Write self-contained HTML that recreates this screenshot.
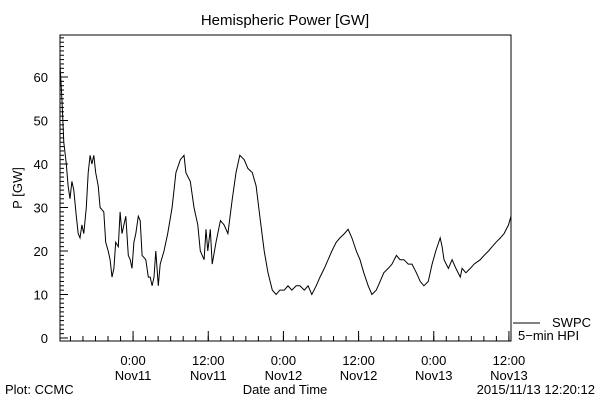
<!DOCTYPE html>
<html><head><meta charset="utf-8"><style>
body{margin:0;background:#fff}
svg text{font-family:"Liberation Sans",sans-serif;font-size:13px;fill:#000}
</style></head><body>
<svg id="c" width="600" height="400">
<text x="285" y="25" text-anchor="middle" style="font-size:15px">Hemispheric Power [GW]</text>
<rect x="60" y="35" width="451" height="306" fill="none" stroke="#000"/>
<text transform="translate(22,188) rotate(-90)" text-anchor="middle">P [GW]</text>
<text x="285" y="394" text-anchor="middle">Date and Time</text>
<text x="5" y="394">Plot: CCMC</text>
<text x="595" y="394" text-anchor="end">2015/11/13 12:20:12</text>
<line x1="513" y1="323" x2="540" y2="323" stroke="#000"/>
<text x="552" y="327">SWPC</text>
<text x="518" y="340">5−min HPI</text>
<g id="axes"></g>
<path id="line" fill="none" stroke="#000" stroke-width="1"/>
</svg>
<script>
const hours=[0,0.3,0.6,1.0,1.3,1.6,1.9,2.2,2.6,2.9,3.2,3.5,3.8,4.2,4.5,4.8,5.1,5.4,5.7,6.1,6.4,7.0,7.3,7.7,8.0,8.3,8.6,8.9,9.3,9.6,9.9,10.2,10.5,10.9,11.2,11.5,11.8,12.1,12.5,12.8,13.1,13.7,14.1,14.4,14.7,15.0,15.3,15.7,16.0,16.6,17.2,17.9,18.5,19.2,19.8,20.1,20.8,21.4,21.7,22.0,22.4,23.0,23.3,23.6,24.0,24.3,24.9,25.6,26.2,26.8,27.5,28.1,28.7,29.4,30.0,30.7,31.3,31.9,32.6,33.2,33.9,34.5,35.1,35.8,36.4,37.0,37.7,38.3,39.0,39.6,40.2,40.9,41.5,42.2,42.8,43.4,44.1,44.7,45.4,46.0,46.6,47.3,47.9,48.5,49.2,49.8,50.5,51.1,51.7,52.4,53.0,53.7,54.3,54.9,55.6,56.2,56.9,57.5,58.1,58.8,59.4,60.0,60.7,61.0,61.3,62.0,62.6,63.2,63.9,64.2,64.8,65.5,66.1,67.1,67.7,68.4,69.0,69.6,70.3,70.9,71.6,72.0];
const power=[63,55,45,40,35,32,36,34,28,24,23,26,24,30,38,42,40,42,38,35,30,29,22,20,18,14,16,22,21,29,24,26,28,19,18,16,22,24,28,27,19,18,14,14,12,14,20,12,17,20,24,30,38,41,42,38,36,30,28,26,20,18,25,20,25,17,22,27,26,24,32,38,42,41,39,38,35,28,20,15,11,10,11,11,12,11,12,12,11,12,10,12,14,16,18,20,22,23,24,25,23,20,18,15,12,10,11,13,15,16,17,19,18,18,17,17,15,13,12,13,17,20,23,21,18,16,18,16,14,16,15,16,17,18,19,20,21,22,23,24,26,28];
const yTickValues=[0,10,20,30,40,50,60];
const xTickHours=[11.667,23.667,35.667,47.667,59.667,71.667];
const xTickTimes=["0:00","12:00","0:00","12:00","0:00","12:00"];
const xTickDays=["Nov11","Nov11","Nov12","Nov12","Nov13","Nov13"];
const X=h=>60+h*6.264, Y=v=>338-v*4.35;
const NS="http://www.w3.org/2000/svg", g=document.getElementById('axes');
function ln(x1,y1,x2,y2,name){const l=document.createElementNS(NS,'line');l.setAttribute('x1',x1);l.setAttribute('y1',y1);l.setAttribute('x2',x2);l.setAttribute('y2',y2);l.setAttribute('stroke','#000');


g.appendChild(l);}
function tx(x,y,s,anchor,name){const t=document.createElementNS(NS,'text');t.setAttribute('x',x);t.setAttribute('y',y);t.setAttribute('text-anchor',anchor);t.textContent=s;


g.appendChild(t);}
for(let v=0;v<=69;v+=1){const big=v%10===0;ln(60,Y(v),60+(big?8:4),Y(v),'y-tick');}
yTickValues.forEach(v=>tx(48,Y(v)+5,String(v),'end','y-tick-label'));
for(let h=1.667;h<=72.01;h+=2){ln(X(h),341,X(h),336,'x-minor-tick');}
xTickHours.forEach((h,i)=>{ln(X(h),341,X(h),331,'x-major-tick');tx(X(h),365,xTickTimes[i],'middle','x-tick-time');tx(X(h),380,xTickDays[i],'middle','x-tick-day');});
document.getElementById('line').setAttribute('d',hours.map((h,i)=>(i?'L':'M')+X(h).toFixed(1)+' '+Y(power[i]).toFixed(1)).join(''));
</script>
</body></html>
